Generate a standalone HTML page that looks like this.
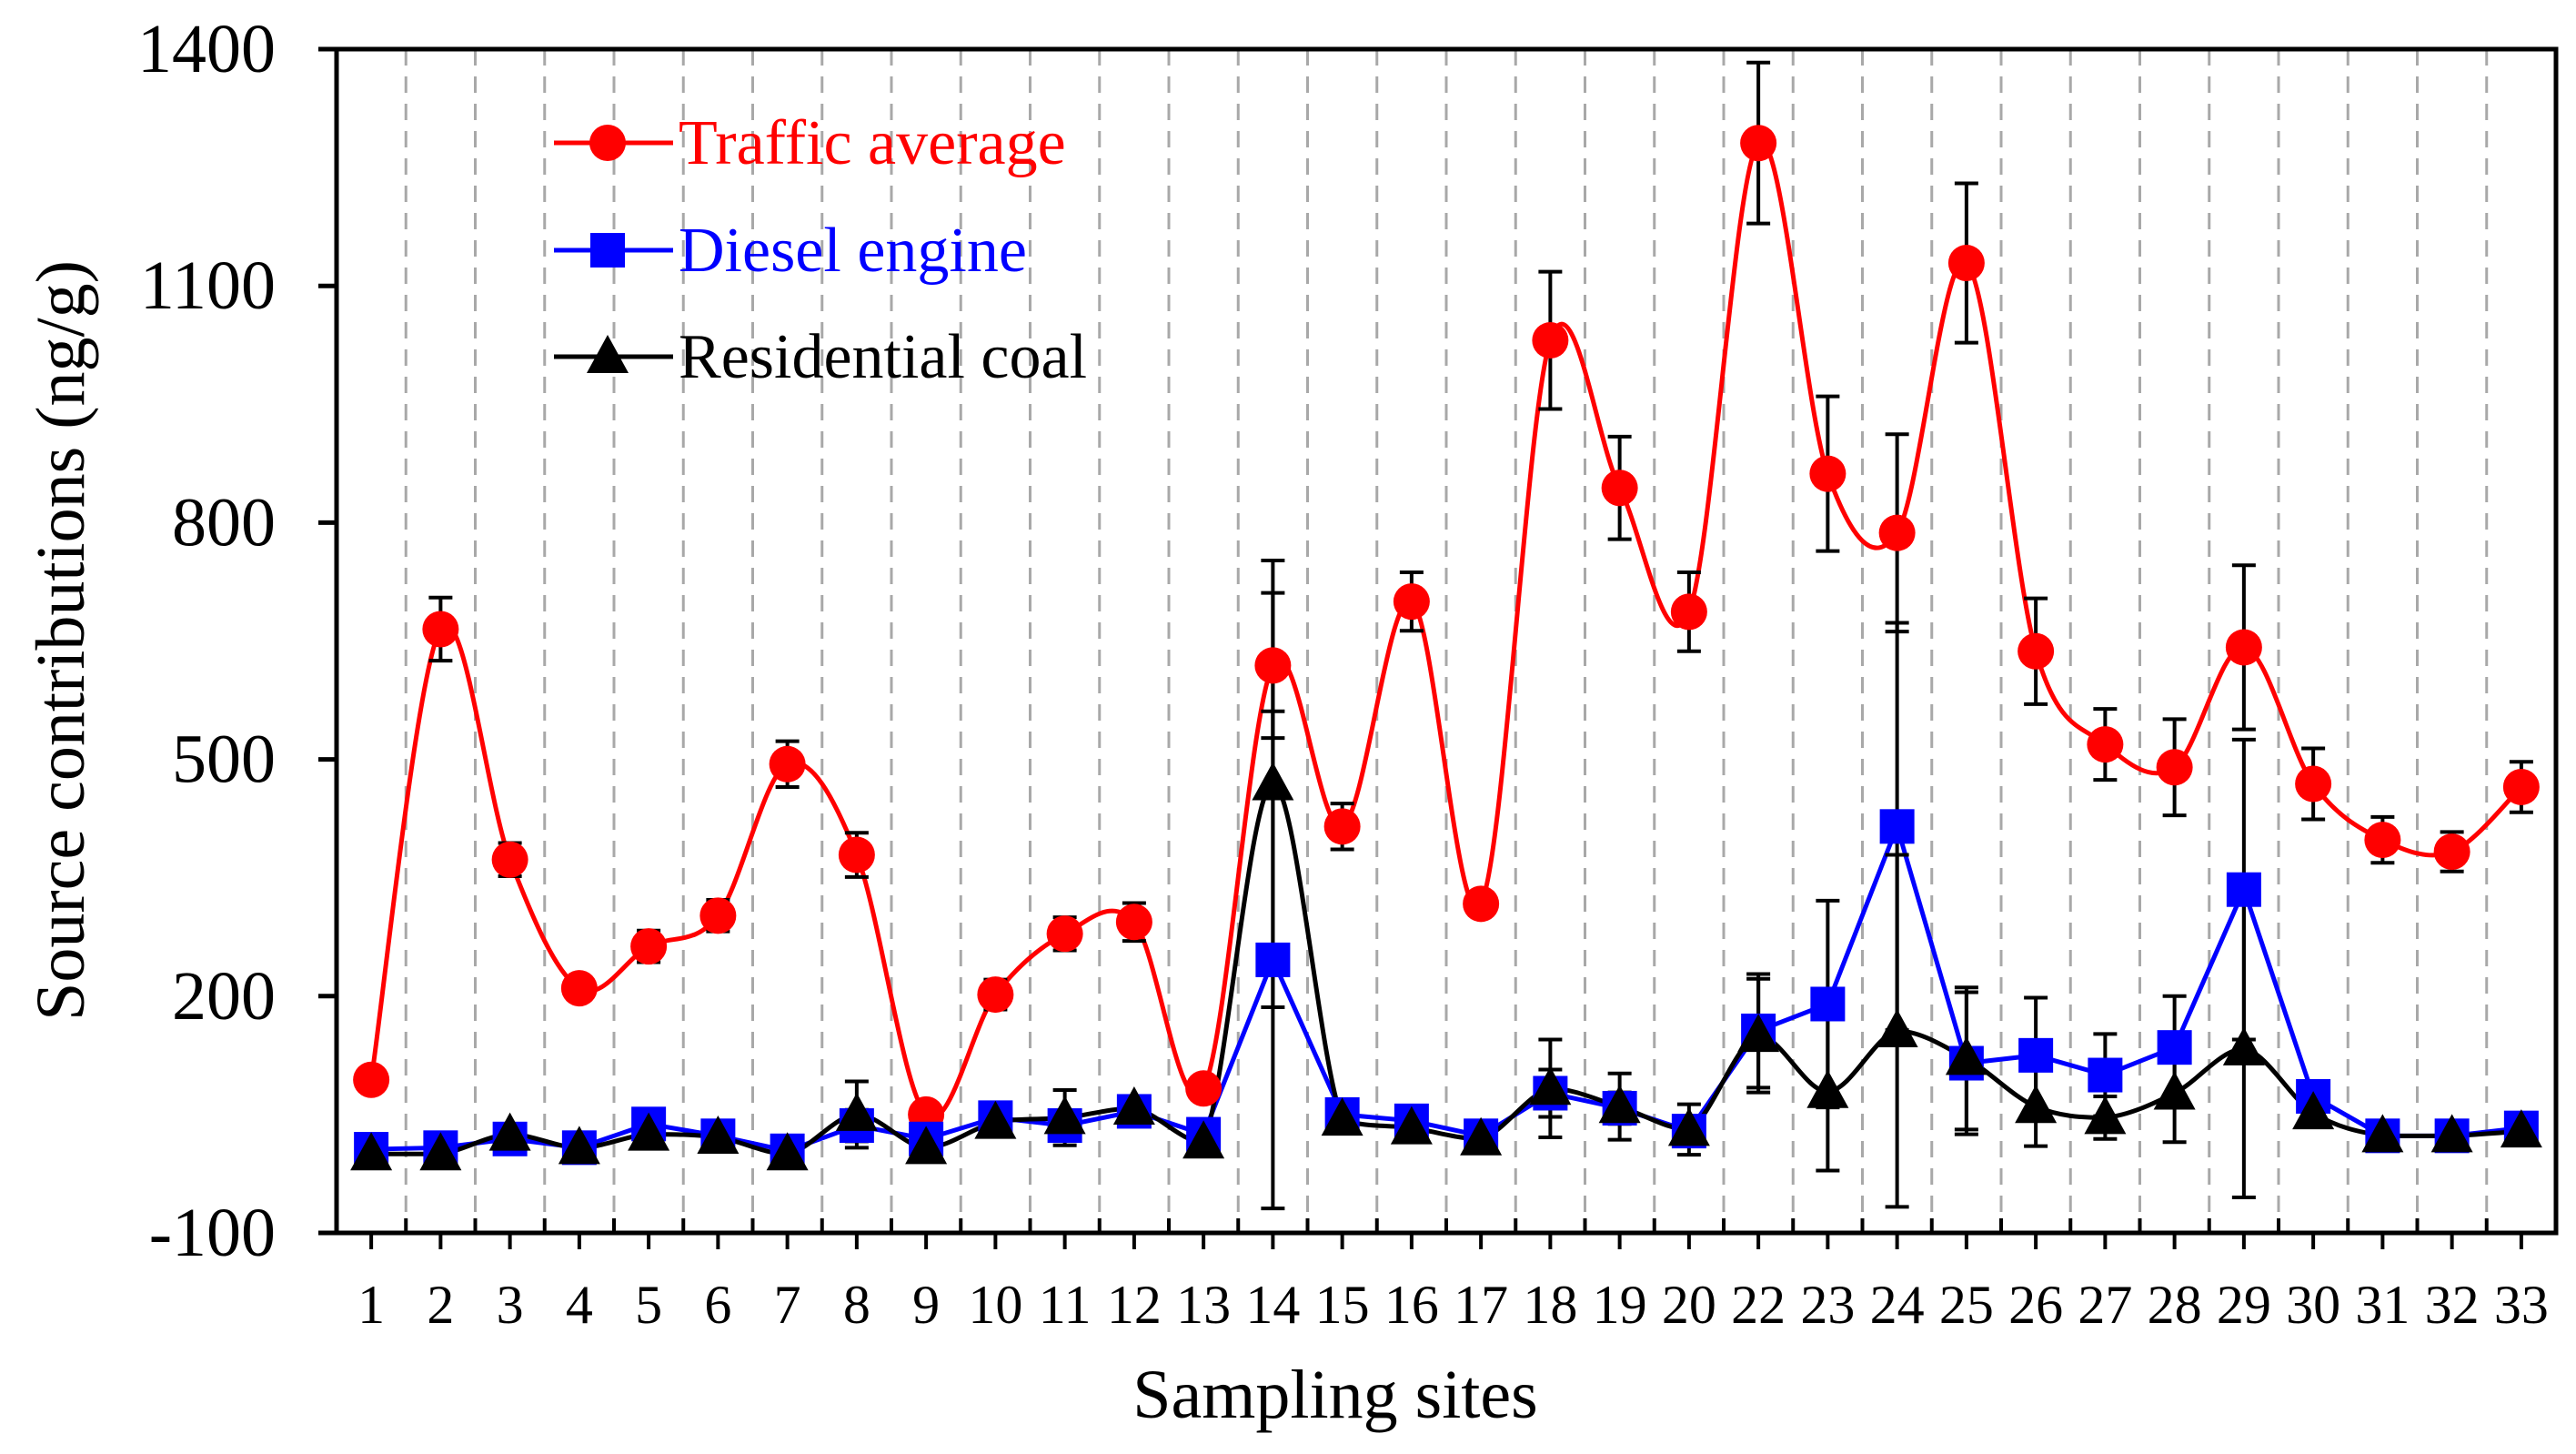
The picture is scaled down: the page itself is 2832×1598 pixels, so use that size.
<!DOCTYPE html>
<html><head><meta charset="utf-8"><style>
html,body{margin:0;padding:0;background:#fff;}
svg{display:block;font-family:"Liberation Serif","Times New Roman",serif;}
</style></head><body>
<svg id="chart" width="2832" height="1598" viewBox="0 0 2832 1598" xmlns="http://www.w3.org/2000/svg">
<g id="grid"></g>
<g id="series"></g>
<g id="axes"></g>
<g id="legend"></g>
<text x="0" y="0" transform="translate(92,704) rotate(-90)" text-anchor="middle" font-size="76" fill="#000">Source contributions (ng/g)</text>
<text x="1468" y="1558" text-anchor="middle" font-size="76" fill="#000">Sampling sites</text>
</svg>
<script>
const categories = ["1","2","3","4","5","6","7","8","9","10","11","12","13","14","15","16","17","18","19","20","22","23","24","25","26","27","28","29","30","31","32","33"];
const trafficValues = [94,665,373,210,263,302,494,379,50,202,279,294,83,619,415,700,317,1031,844,687,1281,862,787,1129,637,519,490,642,469,398,383,465];
const trafficErrors = [0,40,21,0,20,20,29,28,0,19,21,24,0,92,29,37,12,87,65,50,102,98,125,101,67,45,61,104,45,29,25,32];
const dieselValues = [6,8,19,8,38,23,4,36,19,46,36,54,25,246,50,42,23,77,58,29,156,190,415,115,125,100,135,335,73,23,23,33];
const dieselErrors = [0,0,0,0,0,0,0,20,0,0,0,12,0,315,0,0,0,30,20,15,72,131,258,90,73,52,65,190,0,0,0,10];
const coalValues = [0,0,25,8,25,21,0,50,8,40,46,58,15,469,44,33,19,83,60,31,150,79,156,121,60,46,77,133,52,23,23,29];
const coalErrors = [0,0,0,0,0,0,0,42,0,0,35,12,0,283,0,12,0,62,42,32,72,100,223,90,50,27,62,188,0,0,0,10];
const yTicks = [-100,200,500,800,1100,1400];

const NS="http://www.w3.org/2000/svg";
const L=370, R=2810, T=54, B=1355;
const yMin=-100, yMax=1400;
const band=(R-L)/categories.length;
function xS(i){return L+band*(i+0.5);}
function yS(v){return B-(v-yMin)/(yMax-yMin)*(B-T);}
function mk(tag,attrs,parent){const e=document.createElementNS(NS,tag);for(const k in attrs)e.setAttribute(k,attrs[k]);parent.appendChild(e);return e;}

const grid=document.getElementById('grid');
for(let i=1;i<categories.length;i++){
  const x=L+band*i;
  const g=mk('line',{x1:x,y1:T,x2:x,y2:B,stroke:'#a8a8a8','stroke-width':3,'stroke-dasharray':'18,12'},grid);
  
  
  const t=mk('line',{x1:x,y1:B,x2:x,y2:B-16,stroke:'#000','stroke-width':4},grid);
  
  
}

function smoothPath(pts,clamp){
  let d=`M${pts[0][0]},${pts[0][1]}`;
  for(let i=0;i<pts.length-1;i++){
    const p0=pts[Math.max(i-1,0)],p1=pts[i],p2=pts[i+1],p3=pts[Math.min(i+2,pts.length-1)];
    let c1=[p1[0]+(p2[0]-p0[0])/6,p1[1]+(p2[1]-p0[1])/6];
    let c2=[p2[0]-(p3[0]-p1[0])/6,p2[1]-(p3[1]-p1[1])/6];
    if(clamp){
      const lo=Math.min(p1[1],p2[1]),hi=Math.max(p1[1],p2[1]);
      c1[1]=Math.min(hi,Math.max(lo,c1[1]));
      c2[1]=Math.min(hi,Math.max(lo,c2[1]));
    }
    d+=` C${c1[0]},${c1[1]} ${c2[0]},${c2[1]} ${p2[0]},${p2[1]}`;
  }
  return d;
}
function linePath(pts){return 'M'+pts.map(p=>p.join(',')).join(' L');}

const series=document.getElementById('series');
function drawLine(vals,color,mode,name){
  const pts=vals.map((v,i)=>[xS(i),yS(v)]);
  const d=mode==='line'?linePath(pts):smoothPath(pts,mode==='clamp');
  const p=mk('path',{d:d,fill:'none',stroke:color,'stroke-width':5},series);
  
  
}
function drawErr(vals,errs,name){
  vals.forEach((v,i)=>{
    if(!errs[i])return;
    const x=xS(i),y1=yS(v+errs[i]),y2=yS(v-errs[i]);
    const g=mk('g',{stroke:'#000','stroke-width':4},series);
    
    
    mk('line',{x1:x,y1:y1,x2:x,y2:y2},g);
    mk('line',{x1:x-13,y1:y1,x2:x+13,y2:y1},g);
    mk('line',{x1:x-13,y1:y2,x2:x+13,y2:y2},g);
  });
}
function circle(x,y,parent){return mk('circle',{cx:x,cy:y,r:20,fill:'#ff0000'},parent);}
function square(x,y,parent){return mk('rect',{x:x-19,y:y-19,width:38,height:38,fill:'#0000ff'},parent);}
function tri(x,y,parent){return mk('polygon',{points:`${x},${y-24} ${x+23},${y+18} ${x-23},${y+18}`,fill:'#000'},parent);}

drawLine(trafficValues,'#ff0000','smooth','traffic-line');
drawLine(dieselValues,'#0000ff','line','diesel-line');
drawLine(coalValues,'#000000','clamp','coal-line');
drawErr(trafficValues,trafficErrors,'traffic-error-bar');
drawErr(dieselValues,dieselErrors,'diesel-error-bar');
drawErr(coalValues,coalErrors,'coal-error-bar');
trafficValues.forEach((v,i)=>{const c=circle(xS(i),yS(v),series);
  
  });
dieselValues.forEach((v,i)=>{const c=square(xS(i),yS(v),series);
  
  });
coalValues.forEach((v,i)=>{const c=tri(xS(i),yS(v),series);
  
  });

const axes=document.getElementById('axes');
const fr=mk('rect',{x:L,y:T,width:R-L,height:B-T,fill:'none',stroke:'#000','stroke-width':5},axes);


yTicks.forEach(v=>{
  const y=yS(v);
  const t=mk('line',{x1:L-20,y1:y,x2:L,y2:y,stroke:'#000','stroke-width':5},axes);
  
  
  const lb=mk('text',{x:303,y:y+25,'text-anchor':'end','font-size':76,fill:'#000'},axes);
  lb.textContent=v;
  
  
});
categories.forEach((c,i)=>{
  const x=xS(i);
  const t=mk('line',{x1:x,y1:B,x2:x,y2:B+18,stroke:'#000','stroke-width':4},axes);
  
  
  const lb=mk('text',{x:x,y:1454,'text-anchor':'middle','font-size':60,fill:'#000'},axes);
  lb.textContent=c;
  
  
});

const legend=document.getElementById('legend');
const items=[["Traffic average","#ff0000",circle,157],["Diesel engine","#0000ff",square,275],["Residential coal","#000000",tri,392]];
items.forEach(it=>{
  const g=mk('g',{},legend);
  
  
  mk('line',{x1:609,y1:it[3],x2:740,y2:it[3],stroke:it[1],'stroke-width':5},g);
  it[2](668,it[3],g);
  const t=mk('text',{x:746,y:it[3]+23,'font-size':70,fill:it[1]},g);
  t.textContent=it[0];
});
</script>
</body></html>
